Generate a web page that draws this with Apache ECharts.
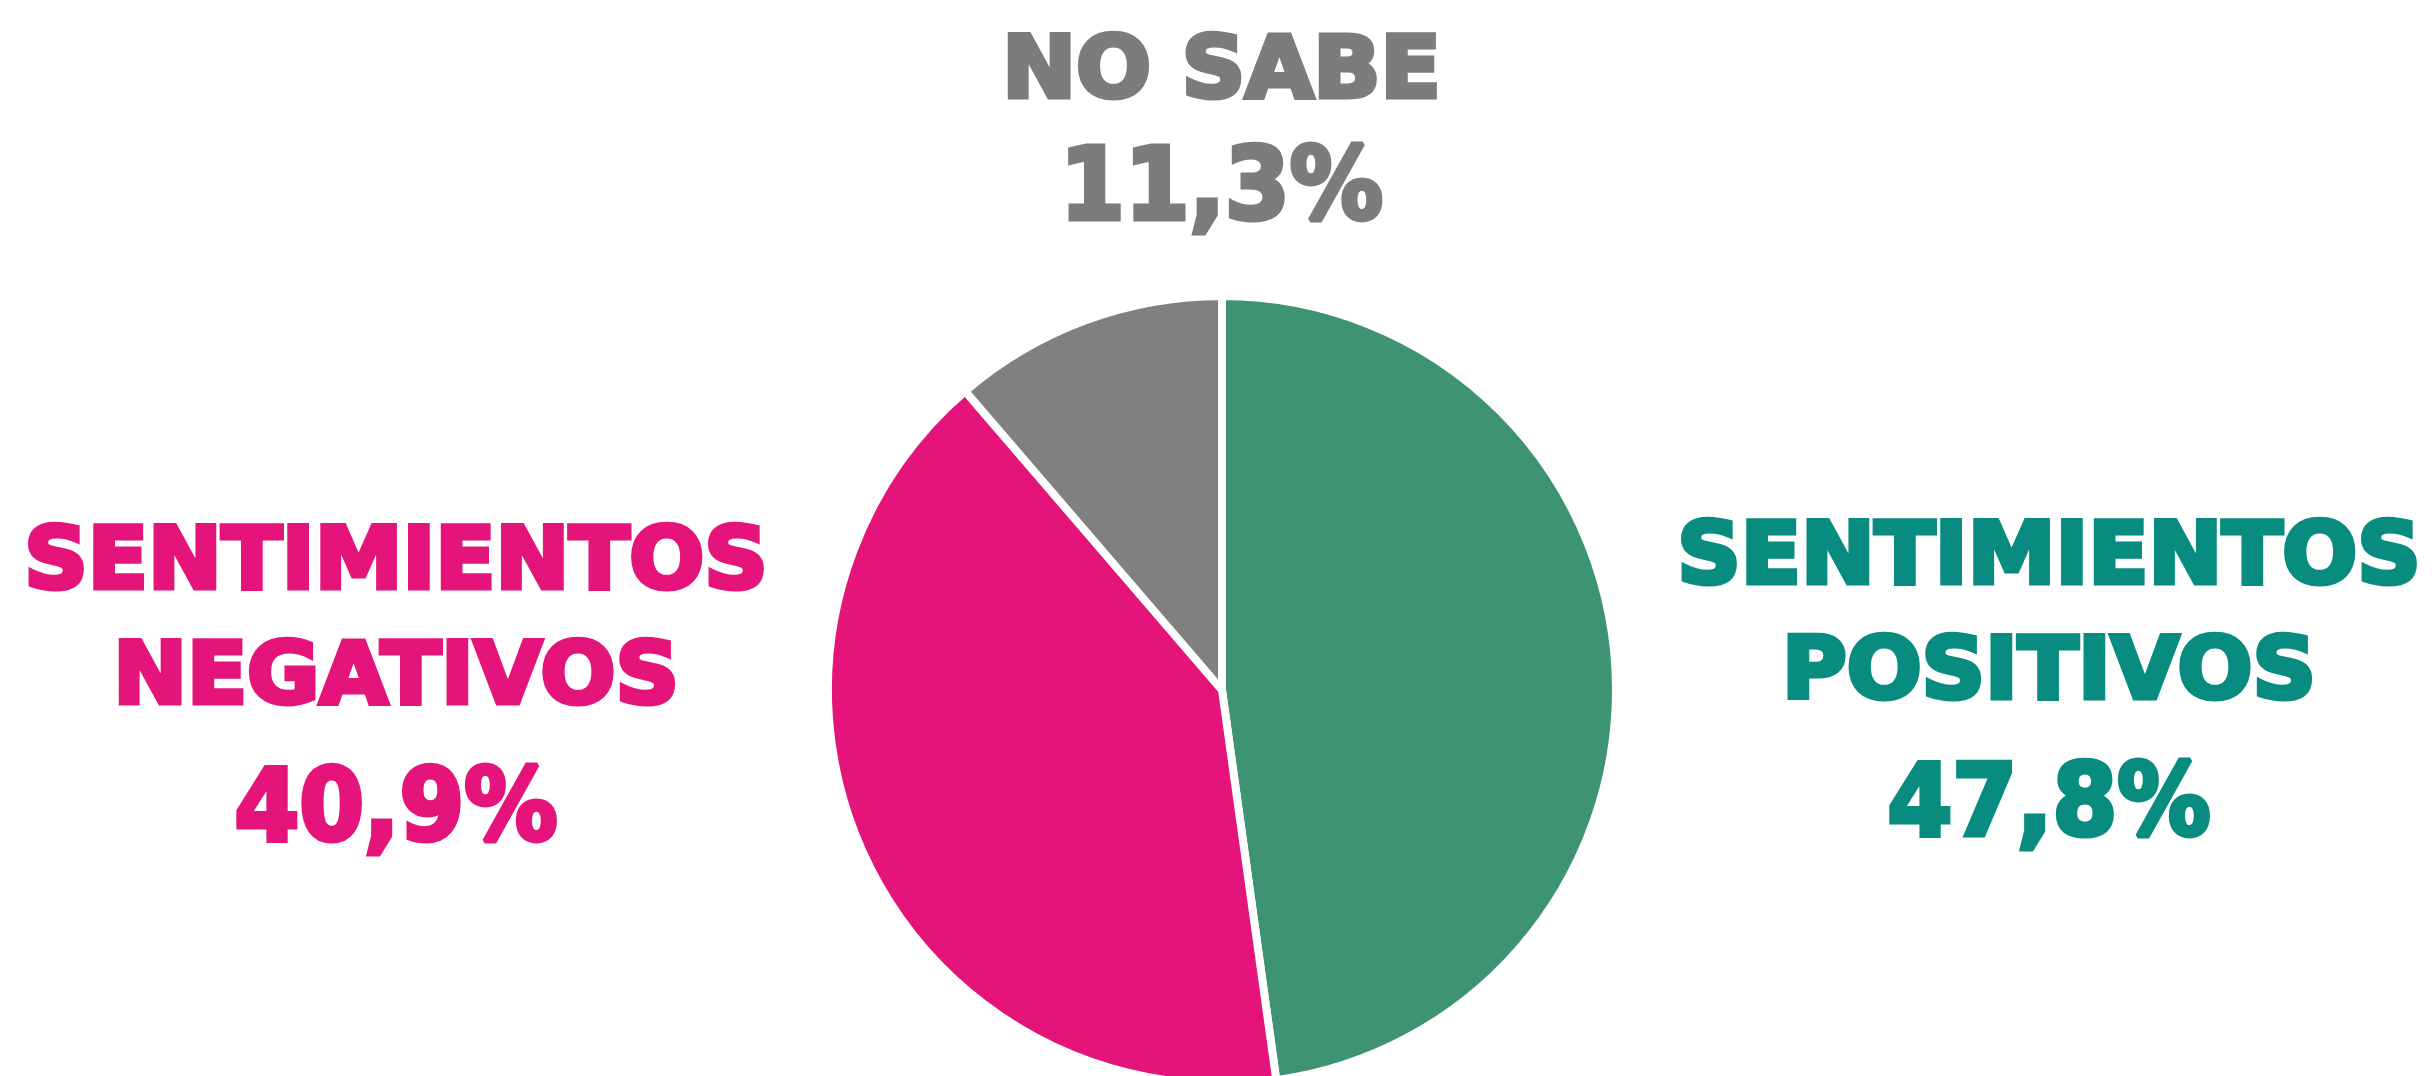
<!DOCTYPE html>
<html>
<head>
<meta charset="utf-8">
<title>Sentimientos</title>
<script src="https://cdn.jsdelivr.net/npm/echarts@6/dist/echarts.min.js"></script>
<style>
  html, body { margin: 0; padding: 0; background: #fff; }
  #chart { width: 2432px; height: 1076px; }
</style>
</head>
<body>
<div id="chart"></div>
<script>
// categorias y valores (%)
var categories = ['SENTIMIENTOS\nPOSITIVOS', 'SENTIMIENTOS\nNEGATIVOS', 'NO SABE']
var values = [47.8, 40.9, 11.3]
var sliceColors = ['#3e9373', '#e5147a', '#808080']
var textColors = ['#078c7f', '#e5147a', '#7b7c7e']

// posicion de cada etiqueta: centro x, y de la primera linea, y del numero
var labelPos = [[2049, 549.5, 797.5], [396, 555, 802.5], [1221.5, 64, 181.5]]

var FONT = '"DejaVu Sans", sans-serif'
var capSize = 86
var numSize = 99

var chart = echarts.init(document.getElementById('chart'))

function fmt(v) {
  return v.toFixed(1).replace('.', ',') + '%'
}

function textEl(str, x, y, size, sx, color) {
  return {
    type: 'text',
    x: x,
    y: y + size * 0.067 + 5,
    scaleX: sx,
    silent: true,
    style: {
      text: str,
      x: 0,
      y: 0,
      align: 'center',
      verticalAlign: 'middle',
      font: 'bold ' + size + 'px ' + FONT,
      fill: color,
      stroke: color,
      lineWidth: 5,
      lineJoin: 'round'
    }
  }
}

// etiquetas
var labels = []
categories.forEach(function (name, i) {
  var p = labelPos[i]
  name.split('\n').forEach(function (line, k) {
    labels.push(textEl(line, p[0], p[1] + k * 115, capSize, 1.025, textColors[i]))
  })
  labels.push(textEl(fmt(values[i]), p[0], p[2], numSize, 0.94, textColors[i]))
})

chart.setOption({
  backgroundColor: '#fff',
  animation: false,
  graphic: labels,
  series: [
    {
      type: 'pie',
      center: [1222, 690],
      radius: 394,
      startAngle: 90,
      clockwise: true,
      label: { show: false },
      labelLine: { show: false },
      itemStyle: {
        borderColor: '#fff',
        borderWidth: 8
      },
      data: values.map(function (v, i) {
        return {
          name: categories[i],
          value: v,
          itemStyle: { color: sliceColors[i] }
        }
      })
    }
  ]
})
</script>
</body>
</html>
